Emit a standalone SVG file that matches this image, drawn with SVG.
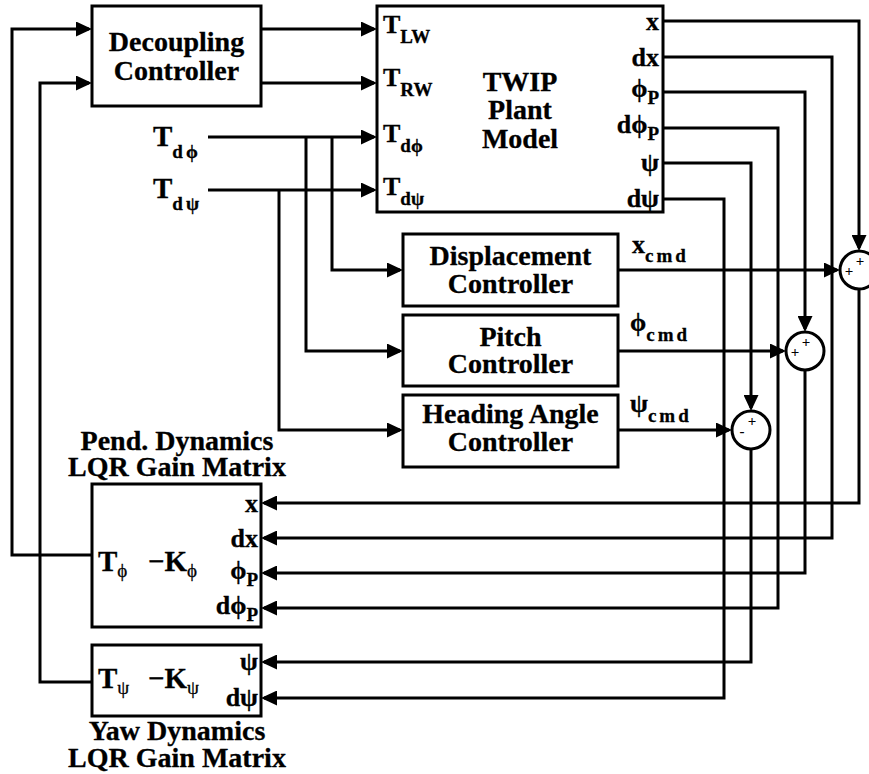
<svg xmlns="http://www.w3.org/2000/svg" width="869" height="774" viewBox="0 0 869 774" font-family="Liberation Serif, DejaVu Serif, serif">
<style>
text{font-family:'Liberation Serif','DejaVu Serif',serif;font-weight:700;fill:#000;stroke:#000;stroke-width:0.3}
.big{font-size:28px;text-anchor:middle}
.lbl{font-size:26px}
.ext{font-size:29px}
.sub{font-size:19px}
.sp{letter-spacing:3px}
.end{text-anchor:end}
.sgn{font-size:15px;text-anchor:middle;stroke-width:0}
.box{fill:#fff;stroke:#000;stroke-width:3}
.w{fill:none;stroke:#000;stroke-width:3}
.a{marker-end:url(#ah)}
</style>
<defs>
<marker id="ah" markerUnits="userSpaceOnUse" markerWidth="17" markerHeight="15" refX="13" refY="7.5" orient="auto">
<path d="M0,0 L16,7.5 L0,15 z" fill="#000"/>
</marker>
</defs>
<rect width="869" height="774" fill="#fff"/>

<g id="connectors">
<path class="w a" d="M92,555 H12 V29 H89"/>
<path class="w a" d="M92,682 H40 V83 H89"/>
<path class="w a" d="M261,29 H374"/>
<path class="w a" d="M261,83 H374"/>
<path class="w a" d="M208,137 H374"/>
<path class="w a" d="M208,190 H374"/>
<path class="w a" d="M332,137 V270 H400"/>
<path class="w a" d="M306,137 V351 H400"/>
<path class="w a" d="M279,190 V430 H400"/>
<path class="w a" d="M618,270 H837"/>
<path class="w a" d="M618,351 H783"/>
<path class="w a" d="M618,430 H729"/>
<path class="w a" d="M663,21 H859 V248"/>
<path class="w a" d="M859,289 V503 H264"/>
<path class="w a" d="M663,57 H832 V538 H264"/>
<path class="w a" d="M663,92 H805 V329"/>
<path class="w a" d="M805,370 V573 H264"/>
<path class="w a" d="M663,128 H778 V608 H264"/>
<path class="w a" d="M663,163 H751 V408"/>
<path class="w a" d="M751,449 V662 H264"/>
<path class="w a" d="M663,199 H724 V698 H264"/>
</g>

<g id="decoupling">
<rect class="box" x="92" y="6" width="169" height="100"/>
<text class="big" x="176.5" y="51">Decoupling</text>
<text class="big" x="176.5" y="80">Controller</text>
</g>

<g id="plant">
<rect class="box" x="377" y="6" width="286" height="206"/>
<text class="big" x="520" y="91">TWIP</text>
<text class="big" x="520" y="119">Plant</text>
<text class="big" x="520" y="148">Model</text>
<text class="lbl" x="383" y="33">T<tspan class="sub" dy="10">LW</tspan></text>
<text class="lbl" x="383" y="86">T<tspan class="sub" dy="10">RW</tspan></text>
<text class="lbl" x="383" y="142">T<tspan class="sub" dy="10">dϕ</tspan></text>
<text class="lbl" x="383" y="195">T<tspan class="sub" dy="10">dψ</tspan></text>
<text class="lbl end" x="659" y="30">x</text>
<text class="lbl end" x="659" y="66">dx</text>
<text class="lbl end" x="659" y="97">ϕ<tspan class="sub" dy="7">P</tspan></text>
<text class="lbl end" x="659" y="133">dϕ<tspan class="sub" dy="7">P</tspan></text>
<text class="lbl end" x="659" y="171">ψ</text>
<text class="lbl end" x="659" y="207">dψ</text>
</g>

<g id="inputs">
<text class="ext" x="153" y="146">T<tspan class="sub sp" font-size="20" dy="12">dϕ</tspan></text>
<text class="ext" x="153" y="198">T<tspan class="sub sp" font-size="20" dy="12">dψ</tspan></text>
</g>

<g id="displacement">
<rect class="box" x="403" y="234" width="215" height="72"/>
<text class="big" x="510.5" y="265">Displacement</text>
<text class="big" x="510.5" y="293">Controller</text>
<text class="lbl" x="632" y="253">x<tspan class="sub sp" dy="9">cmd</tspan></text>
</g>

<g id="pitch">
<rect class="box" x="403" y="315" width="215" height="71"/>
<text class="big" x="510.5" y="346">Pitch</text>
<text class="big" x="510.5" y="373">Controller</text>
<text class="lbl" x="630" y="331">ϕ<tspan class="sub sp" dy="10">cmd</tspan></text>
</g>

<g id="heading">
<rect class="box" x="403" y="395" width="215" height="72"/>
<text class="big" x="510.5" y="423">Heading Angle</text>
<text class="big" x="510.5" y="451">Controller</text>
<text class="lbl" x="630" y="412">ψ<tspan class="sub sp" dy="10">cmd</tspan></text>
</g>

<g id="sum-x">
<circle class="box" cx="859" cy="270" r="19"/>
<text class="sgn" x="860" y="266">+</text>
<text class="sgn" x="849" y="276">+</text>
</g>
<g id="sum-phi">
<circle class="box" cx="805" cy="351" r="19"/>
<text class="sgn" x="806" y="347">+</text>
<text class="sgn" x="795" y="357">+</text>
</g>
<g id="sum-psi">
<circle class="box" cx="751" cy="430" r="19"/>
<text class="sgn" x="752" y="426">+</text>
<text class="sgn" x="742" y="436">-</text>
</g>

<g id="pend-lqr">
<rect class="box" x="92" y="484" width="169" height="143"/>
<text class="big" x="177" y="450">Pend. Dynamics</text>
<text class="big" x="177" y="476">LQR Gain Matrix</text>
<text class="ext" x="98" y="571">T<tspan class="sub" font-size="21" font-weight="400" dy="6">ϕ</tspan></text>
<text class="ext" x="148" y="571">−K<tspan class="sub" font-size="21" font-weight="400" dy="6">ϕ</tspan></text>
<text class="lbl end" x="258" y="512">x</text>
<text class="lbl end" x="258" y="547">dx</text>
<text class="lbl end" x="258" y="579">ϕ<tspan class="sub" dy="7">P</tspan></text>
<text class="lbl end" x="258" y="614">dϕ<tspan class="sub" dy="7">P</tspan></text>
</g>

<g id="yaw-lqr">
<rect class="box" x="92" y="645" width="169" height="71"/>
<text class="ext" x="98" y="688">T<tspan class="sub" font-size="21" font-weight="400" dy="6">ψ</tspan></text>
<text class="ext" x="148" y="688">−K<tspan class="sub" font-size="21" font-weight="400" dy="6">ψ</tspan></text>
<text class="lbl end" x="258" y="670">ψ</text>
<text class="lbl end" x="258" y="706">dψ</text>
<text class="big" x="177" y="740">Yaw Dynamics</text>
<text class="big" x="177" y="767">LQR Gain Matrix</text>
</g>
</svg>
